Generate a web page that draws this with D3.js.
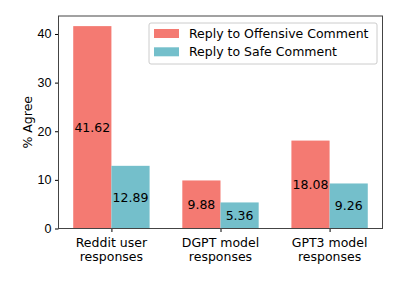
<!DOCTYPE html>
<html>
<head>
<meta charset="utf-8">
<script src="https://cdn.jsdelivr.net/npm/d3@7"></script>
<style>
  body { margin: 0; background: #fff; }
  svg { font-family: "DejaVu Sans", sans-serif; }
</style>
</head>
<body>
<svg id="chart" width="399" height="285"></svg>
<script>
const categories = [["Reddit user", "responses"], ["DGPT model", "responses"], ["GPT3 model", "responses"]];
const seriesNames = ["Reply to Offensive Comment", "Reply to Safe Comment"];
const offensive = [41.62, 9.88, 18.08];
const safe = [12.89, 5.36, 9.26];
const yTicks = [0, 10, 20, 30, 40];

const COLORS = ["#f47a72", "#74bfcb"];
const MARGIN = { left: 58.5, top: 16, right: 16.5, bottom: 56.5 };
const WIDTH = 399 - MARGIN.left - MARGIN.right;
const HEIGHT = 285 - MARGIN.top - MARGIN.bottom;
const BAR_W = 0.35;

const svg = d3.select("#chart");
const g = svg.append("g").attr("transform", `translate(${MARGIN.left},${MARGIN.top})`);

const x = d3.scaleLinear().domain([-0.485, 2.485]).range([0, WIDTH]);
const y = d3.scaleLinear().domain([0, 41.62 * 1.05]).range([HEIGHT, 0]);

const series = [offensive, safe];
series.forEach((vals, si) => {
  const off = si === 0 ? -BAR_W : 0;
  g.selectAll(`.bar${si}`)
    .data(vals)
    .enter()
    .append("rect")
    .attr("x", (d, i) => x(i + off))
    .attr("y", d => y(d))
    .attr("width", x(BAR_W) - x(0))
    .attr("height", d => y(0) - y(d))
    .attr("fill", COLORS[si]);

  g.selectAll(`.lab${si}`)
    .data(vals)
    .enter()
    .append("text")
    .attr("x", (d, i) => x(i + off + BAR_W / 2))
    .attr("y", d => (y(d) + y(0)) / 2)
    .attr("dy", "0.36em")
    .attr("text-anchor", "middle")
    .attr("font-size", 12.5)
    .attr("fill", "#000")
    .text(d => d.toFixed(2));
});

// axes
const yAxis = d3.axisLeft(y).tickValues(yTicks).tickSize(3.5).tickPadding(3.5);
const yg = g.append("g").call(yAxis);
yg.select(".domain").remove();
yg.selectAll("text").attr("font-size", 12.5).attr("fill", "#000");
yg.selectAll("line").attr("stroke", "#000");

const xAxis = d3.axisBottom(x).tickValues([0, 1, 2]).tickSize(3.5).tickFormat("");
const xg = g.append("g").attr("transform", `translate(0,${HEIGHT})`).call(xAxis);
xg.select(".domain").remove();
xg.selectAll("line").attr("stroke", "#000");

categories.forEach((lines, i) => {
  const t = g.append("text")
    .attr("x", x(i))
    .attr("y", HEIGHT + 18)
    .attr("text-anchor", "middle")
    .attr("font-size", 12.5)
    .attr("fill", "#000");
  lines.forEach((l, k) => {
    t.append("tspan").attr("x", x(i)).attr("dy", k === 0 ? 0 : 14.5).text(l);
  });
});

// frame
g.append("rect")
  .attr("width", WIDTH)
  .attr("height", HEIGHT)
  .attr("fill", "none")
  .attr("stroke", "#444")
  .attr("stroke-width", 1);

g.append("text")
  .attr("transform", `translate(${27 - MARGIN.left},${HEIGHT / 2}) rotate(-90)`)
  .attr("dy", "0.36em")
  .attr("text-anchor", "middle")
  .attr("font-size", 12.5)
  .attr("fill", "#000")
  .text("% Agree");

// legend
const legend = g.append("g").attr("transform", `translate(${149 - MARGIN.left},${23 - MARGIN.top})`);
legend.append("rect")
  .attr("width", 228)
  .attr("height", 41)
  .attr("rx", 2)
  .attr("fill", "#fff")
  .attr("fill-opacity", 0.8)
  .attr("stroke", "#ccc");
seriesNames.forEach((name, i) => {
  legend.append("rect")
    .attr("x", 5)
    .attr("y", 6 + i * 18.3)
    .attr("width", 25)
    .attr("height", 9)
    .attr("fill", COLORS[i]);
  legend.append("text")
    .attr("x", 40)
    .attr("y", 10.5 + i * 18.3)
    .attr("dy", "0.36em")
    .attr("font-size", 12.5)
    .attr("fill", "#000")
    .text(name);
});
</script>
</body>
</html>
